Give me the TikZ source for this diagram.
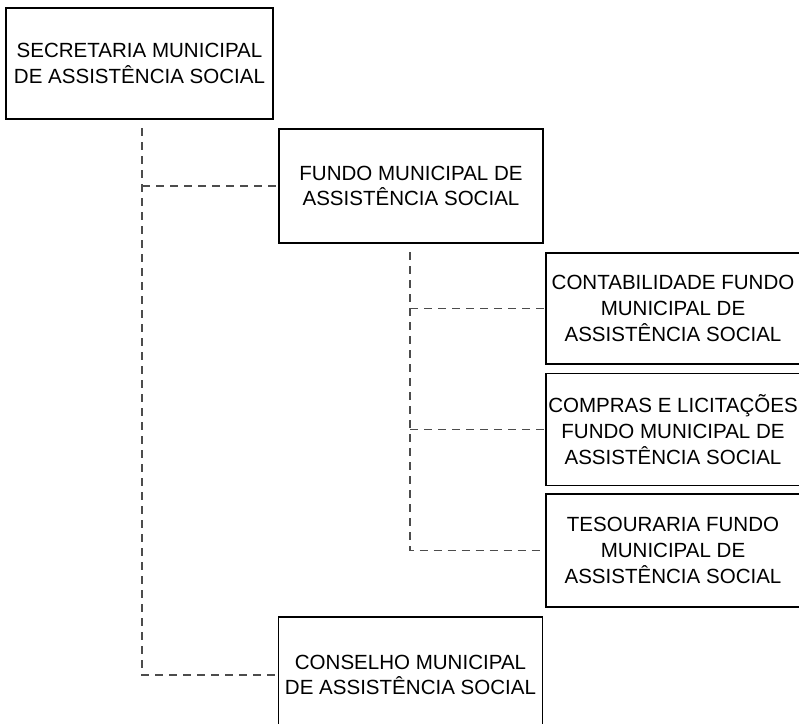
\documentclass[tikz,border=0pt]{standalone}
\usepackage{fontspec}
\setmainfont{Liberation Sans}
\usetikzlibrary{calc}

\begin{document}
\begin{tikzpicture}[x=0.75pt, y=-0.75pt,
    unitbox/.style={draw=black, line width=1.1pt, align=center, inner sep=0pt,
        font=\fontsize{15.4}{19.2}\selectfont},
    link/.style={draw=black!70, line width=0.8pt, dash pattern=on 6pt off 4.5pt}]
    % Page frame
    \useasboundingbox (0,0) rectangle (799,724);
    \clip (0,0) rectangle (799,724);

    % Top level
    \node[unitbox, minimum width=267*0.75pt, minimum height=111*0.75pt] (secretaria) at (139.5,63.5)
        {SECRETARIA MUNICIPAL\\DE ASSISTÊNCIA SOCIAL};

    % Second level
    \node[unitbox, minimum width=264*0.75pt, minimum height=114*0.75pt] (fundo) at (411,186)
        {FUNDO MUNICIPAL DE\\ASSISTÊNCIA SOCIAL};
    \node[unitbox, minimum width=264*0.75pt, minimum height=116*0.75pt] (conselho) at (410.5,675)
        {CONSELHO MUNICIPAL\\DE ASSISTÊNCIA SOCIAL};

    % Third level
    \node[unitbox, minimum width=254*0.75pt, minimum height=111*0.75pt] (contabilidade) at (673,308.5)
        {CONTABILIDADE FUNDO\\MUNICIPAL DE\\ASSISTÊNCIA SOCIAL};
    \node[unitbox, minimum width=254*0.75pt, minimum height=112*0.75pt] (compras) at (673,429.5)
        {COMPRAS E LICITAÇÕES\\FUNDO MUNICIPAL DE\\ASSISTÊNCIA SOCIAL};
    \node[unitbox, minimum width=254*0.75pt, minimum height=113*0.75pt] (tesouraria) at (673,550.5)
        {TESOURARIA FUNDO\\MUNICIPAL DE\\ASSISTÊNCIA SOCIAL};

    % Spines
    \coordinate (spineA) at (142,128);
    \coordinate (spineB) at (410,252);

    \draw[link] (spineA) |- (conselho.west);
    \draw[link] (spineA |- fundo.west) -- (fundo.west);

    \draw[link] (spineB) |- (tesouraria.west);
    \draw[link] (spineB |- contabilidade.west) -- (contabilidade.west);
    \draw[link] (spineB |- compras.west) -- (compras.west);
\end{tikzpicture}
\end{document}
